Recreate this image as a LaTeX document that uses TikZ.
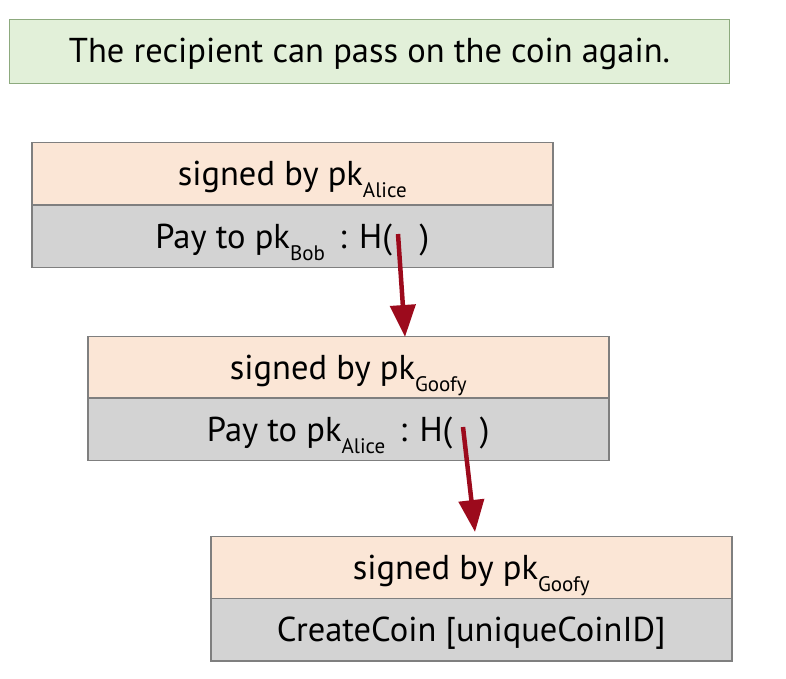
\documentclass[tikz,border=0pt]{standalone}
\usepackage{fontspec}
\setmainfont{PT Sans}
\usetikzlibrary{arrows.meta}
\definecolor{peach}{HTML}{FBE6D6}
\definecolor{graybox}{HTML}{D3D3D3}
\definecolor{greenbox}{HTML}{E2F0D9}
\definecolor{greenedge}{HTML}{8DAA7E}
\definecolor{edgegray}{HTML}{7F7F7F}
\definecolor{arrowred}{HTML}{9C0A1C}
\newcommand{\sbs}[1]{\raisebox{-0.36em}[0pt][0pt]{\fontsize{21}{21}\selectfont #1}}
\tikzset{
  part/.style={draw=edgegray, line width=1.5pt, minimum width=521pt, minimum height=62.5pt, inner sep=0pt, font=\fontsize{34.5}{38}\selectfont, text height=26pt, text depth=2pt, anchor=north west},
  sigpart/.style={part, fill=peach},
  paypart/.style={part, fill=graybox},
  link/.style={draw=arrowred, line width=4.5pt, -{Triangle[width=25pt,length=32pt]}},
}
\begin{document}
\begin{tikzpicture}[x=1pt,y=1pt]
\useasboundingbox (0,0) rectangle (786,-678);
\node[draw=greenedge, fill=greenbox, line width=1pt, minimum width=720pt, minimum height=64pt, anchor=north west, inner sep=0pt, text height=24pt, text depth=2pt, font=\fontsize{34.5}{38}\selectfont] (title) at (9,-19) {The recipient can pass on the coin again.};

\node[sigpart] (s1) at (31,-141.5) {signed by pk\sbs{Alice}};
\node[paypart] (p1) at (31,-204) {Pay to pk\sbs{Bob}\hspace{0.15em} : H(\hspace{0.8em})};

\node[sigpart] (s2) at (87,-335.5) {signed by pk\sbs{Goofy}};
\node[paypart] (p2) at (87,-397) {Pay to pk\sbs{Alice}\hspace{0.15em} : H(\hspace{0.8em})};

\node[sigpart] (s3) at (210,-535.5) {signed by pk\sbs{Goofy}};
\node[paypart] (p3) at (210,-597.5) {CreateCoin [uniqueCoinID]};

\coordinate (h1) at (398,-234);
\coordinate (t1) at (405,-337);
\coordinate (h2) at (463,-427);
\coordinate (t2) at (475,-532);
\draw[link] (h1) -- (t1);
\draw[link] (h2) -- (t2);
\end{tikzpicture}
\end{document}
